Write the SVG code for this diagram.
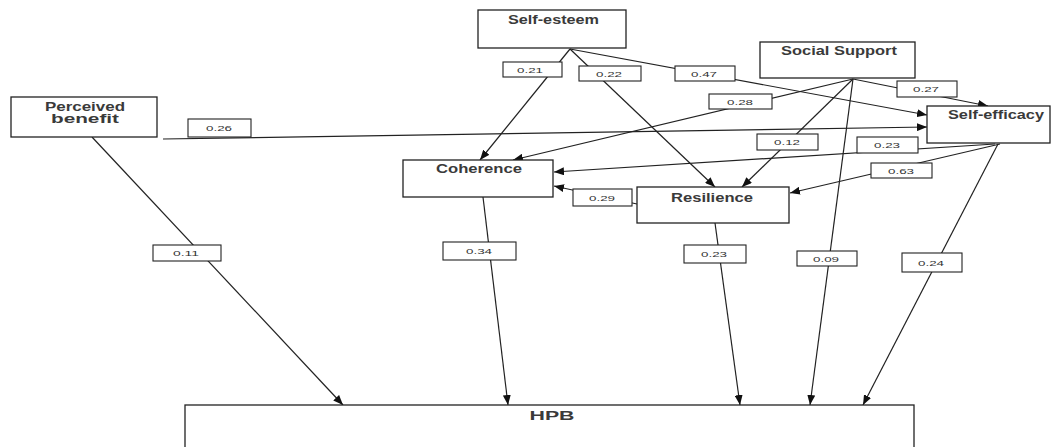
<svg xmlns="http://www.w3.org/2000/svg" width="1053" height="447" viewBox="0 0 1053 447">
<style>
.node{fill:#fff;stroke:#222;stroke-width:1.3}
.nt{font-family:"Liberation Sans",Arial,sans-serif;font-weight:bold;font-size:12px;fill:#3a3a3a;text-anchor:middle}
.lb{fill:#fff;stroke:#222;stroke-width:1.1}
.lt{font-family:"Liberation Sans",Arial,sans-serif;font-size:8px;fill:#333;text-anchor:middle}
.edge{stroke:#222;stroke-width:1.2;fill:none;marker-end:url(#ah)}
</style>
<defs>
<marker id="ah" markerUnits="userSpaceOnUse" markerWidth="10" markerHeight="8" refX="10" refY="4" orient="auto">
<path d="M0,0 L10,4 L0,8 Z" fill="#111"/>
</marker>
</defs>
<rect width="1053" height="447" fill="#fff"/>
<g id="connectors">
<line class="edge" x1="570" y1="49" x2="480" y2="160"/>
<line class="edge" x1="570" y1="49" x2="715" y2="187"/>
<line class="edge" x1="570" y1="49" x2="927" y2="115"/>
<line class="edge" x1="853" y1="79" x2="988" y2="106"/>
<line class="edge" x1="853" y1="79" x2="513" y2="160"/>
<line class="edge" x1="853" y1="79" x2="742" y2="187"/>
<line class="edge" x1="853" y1="79" x2="810" y2="405"/>
<line class="edge" x1="163" y1="139" x2="927" y2="127"/>
<line class="edge" x1="995" y1="144" x2="554" y2="172"/>
<line class="edge" x1="1000" y1="144" x2="790" y2="193"/>
<line class="edge" x1="998" y1="144" x2="863" y2="405"/>
<line class="edge" x1="92" y1="137" x2="343" y2="405"/>
<line class="edge" x1="483" y1="197" x2="508" y2="405"/>
<line class="edge" x1="715" y1="223" x2="740" y2="405"/>
<line class="edge" x1="637" y1="204" x2="554" y2="186"/>
</g>
<g id="edge-labels">
<rect class="lb" x="503" y="62" width="59" height="15"/><text class="lt" x="530" y="73" textLength="26" lengthAdjust="spacingAndGlyphs">0.21</text>
<rect class="lb" x="579" y="66" width="62" height="15"/><text class="lt" x="609" y="77" textLength="26" lengthAdjust="spacingAndGlyphs">0.22</text>
<rect class="lb" x="675" y="66" width="60" height="15"/><text class="lt" x="704" y="77" textLength="26" lengthAdjust="spacingAndGlyphs">0.47</text>
<rect class="lb" x="897" y="81" width="60" height="16"/><text class="lt" x="926" y="92" textLength="26" lengthAdjust="spacingAndGlyphs">0.27</text>
<rect class="lb" x="709" y="94" width="63" height="15"/><text class="lt" x="740" y="105" textLength="26" lengthAdjust="spacingAndGlyphs">0.28</text>
<rect class="lb" x="188" y="119" width="63" height="18"/><text class="lt" x="219" y="131" textLength="26" lengthAdjust="spacingAndGlyphs">0.26</text>
<rect class="lb" x="757" y="134" width="61" height="16"/><text class="lt" x="787" y="145" textLength="26" lengthAdjust="spacingAndGlyphs">0.12</text>
<rect class="lb" x="857" y="137" width="61" height="16"/><text class="lt" x="887" y="148" textLength="26" lengthAdjust="spacingAndGlyphs">0.23</text>
<rect class="lb" x="871" y="163" width="61" height="15"/><text class="lt" x="901" y="174" textLength="26" lengthAdjust="spacingAndGlyphs">0.63</text>
<rect class="lb" x="573" y="189" width="59" height="17"/><text class="lt" x="602" y="201" textLength="26" lengthAdjust="spacingAndGlyphs">0.29</text>
<rect class="lb" x="153" y="245" width="68" height="16"/><text class="lt" x="186" y="256" textLength="26" lengthAdjust="spacingAndGlyphs">0.11</text>
<rect class="lb" x="443" y="242" width="73" height="18"/><text class="lt" x="479" y="254" textLength="26" lengthAdjust="spacingAndGlyphs">0.34</text>
<rect class="lb" x="684" y="245" width="62" height="18"/><text class="lt" x="714" y="257" textLength="26" lengthAdjust="spacingAndGlyphs">0.23</text>
<rect class="lb" x="797" y="251" width="60" height="15"/><text class="lt" x="826" y="262" textLength="26" lengthAdjust="spacingAndGlyphs">0.09</text>
<rect class="lb" x="902" y="253" width="60" height="19"/><text class="lt" x="931" y="266" textLength="26" lengthAdjust="spacingAndGlyphs">0.24</text>
</g>
<g id="self-esteem"><rect class="node" x="478" y="10" width="148" height="38"/><text class="nt" x="553.5" y="24" textLength="91" lengthAdjust="spacingAndGlyphs">Self-esteem</text></g>
<g id="social-support"><rect class="node" x="760" y="42" width="155" height="36"/><text class="nt" x="839" y="55" textLength="116" lengthAdjust="spacingAndGlyphs">Social Support</text></g>
<g id="perceived-benefit"><rect class="node" x="11" y="97" width="146" height="40"/><text class="nt" x="85" y="111" textLength="80" lengthAdjust="spacingAndGlyphs">Perceived</text><text class="nt" x="85" y="123" textLength="68" lengthAdjust="spacingAndGlyphs">benefit</text></g>
<g id="self-efficacy"><rect class="node" x="927" y="106" width="123" height="37"/><text class="nt" x="996" y="119" textLength="96" lengthAdjust="spacingAndGlyphs">Self-efficacy</text></g>
<g id="coherence"><rect class="node" x="403" y="160" width="150" height="37"/><text class="nt" x="479" y="173" textLength="86" lengthAdjust="spacingAndGlyphs">Coherence</text></g>
<g id="resilience"><rect class="node" x="637" y="187" width="152" height="36"/><text class="nt" x="712" y="202" textLength="82" lengthAdjust="spacingAndGlyphs">Resilience</text></g>
<g id="hpb"><rect class="node" x="185" y="405" width="729" height="60"/><text class="nt" x="552" y="420" textLength="45" lengthAdjust="spacingAndGlyphs">HPB</text></g>
</svg>
